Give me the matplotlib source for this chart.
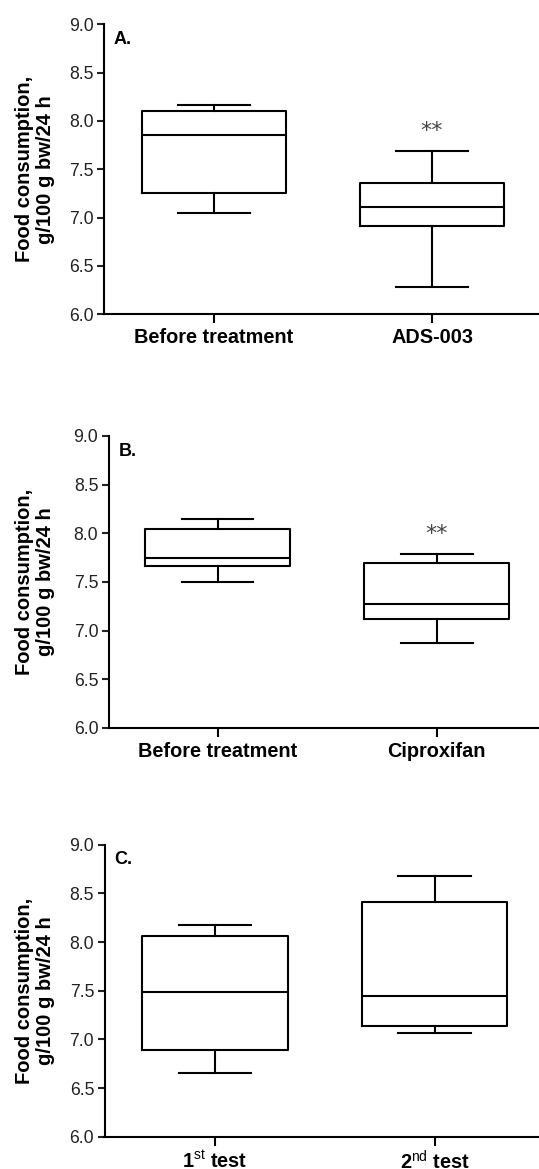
import matplotlib.pyplot as plt

plt.rcParams['font.family'] = ['Liberation Sans', 'DejaVu Sans']
plt.rcParams['mathtext.fontset'] = 'custom'
plt.rcParams['mathtext.rm'] = 'Liberation Sans'
plt.rcParams['mathtext.bf'] = 'Liberation Sans:bold'

# box stats: whisker low, q1, median, q3, whisker high
labels_a = ['Before treatment', 'ADS-003']
box_a = [[7.05, 7.255, 7.85, 8.10, 8.165],
         [6.285, 6.915, 7.115, 7.355, 7.685]]
star_a = [None, 7.90]

labels_b = ['Before treatment', 'Ciproxifan']
box_b = [[7.50, 7.66, 7.745, 8.04, 8.145],
         [6.875, 7.125, 7.27, 7.70, 7.79]]
star_b = [None, 7.99]

labels_c = [r'$\mathbf{1}^{\mathrm{st}}$ $\mathbf{test}$',
            r'$\mathbf{2}^{\mathrm{nd}}$ $\mathbf{test}$']
box_c = [[6.65, 6.89, 7.49, 8.058, 8.178],
         [7.068, 7.134, 7.445, 8.411, 8.678]]
star_c = [None, None]

panel_names = ['A.', 'B.', 'C.']
ylabel = 'Food consumption,\ng/100 g bw/24 h'

W, H = 539, 1169
fig = plt.figure(figsize=(W / 100, H / 100), dpi=100)

# pixel layout: axis left, first category x, second category x, top, bottom
layout = [(103.8, 214.0, 432.0, 24.3, 314.3),
          (108.6, 217.5, 436.6, 436.0, 728.0),
          (104.5, 214.8, 434.5, 844.7, 1136.7)]
right_px = 548
panels = [(labels_a, box_a, star_a), (labels_b, box_b, star_b), (labels_c, box_c, star_c)]

lw = 1.5
for i in range(3):
    l, c0, c1, t, b = layout[i]
    w = right_px - l
    ax = fig.add_axes([l / W, 1 - b / H, w / W, (b - t) / H])
    sp = c1 - c0
    labels, boxes, stars = panels[i]
    stats = []
    for lab, v in zip(labels, boxes):
        stats.append({'label': lab, 'whislo': v[0], 'q1': v[1], 'med': v[2],
                      'q3': v[3], 'whishi': v[4], 'fliers': []})
    ax.bxp(stats, positions=[0, 1], widths=0.664, capwidths=0.328, showfliers=False,
           boxprops=dict(color='black', linewidth=lw),
           medianprops=dict(color='black', linewidth=lw),
           whiskerprops=dict(color='black', linewidth=lw),
           capprops=dict(color='black', linewidth=lw))
    for x, s in enumerate(stars):
        if s is not None:
            ax.text(x, s, '**', ha='center', va='center', fontsize=16,
                    family='DejaVu Sans', color='#444444')
    ax.set_xlim(-(c0 - l) / sp, 1 + (right_px - c1) / sp)
    ax.set_ylim(6.0, 9.0)
    ax.set_yticks([6.0, 6.5, 7.0, 7.5, 8.0, 8.5, 9.0])
    ax.set_yticklabels(['6.0', '6.5', '7.0', '7.5', '8.0', '8.5', '9.0'])
    ax.set_xticks([0, 1])
    ax.set_xticklabels(labels, fontweight='bold', fontsize=14.3)
    ax.tick_params(axis='y', labelsize=12.7, width=lw, length=4.7, pad=2.7, colors='#222222')
    ax.tick_params(axis='x', width=lw, length=6.5, pad=3.5)
    ax.spines['top'].set_visible(False)
    ax.spines['right'].set_visible(False)
    ax.spines['left'].set_linewidth(lw)
    ax.spines['bottom'].set_linewidth(lw)
    ax.set_ylabel(ylabel, fontweight='bold', fontsize=14.5, linespacing=1.1)
    ax.yaxis.set_label_coords((55 - l) / w, 0.5)
    ax.text(9.7 / w, 1 - 6.5 / (b - t), panel_names[i], transform=ax.transAxes,
            ha='left', va='top', fontweight='bold', fontsize=13)

fig.savefig('out.png', dpi=100)
